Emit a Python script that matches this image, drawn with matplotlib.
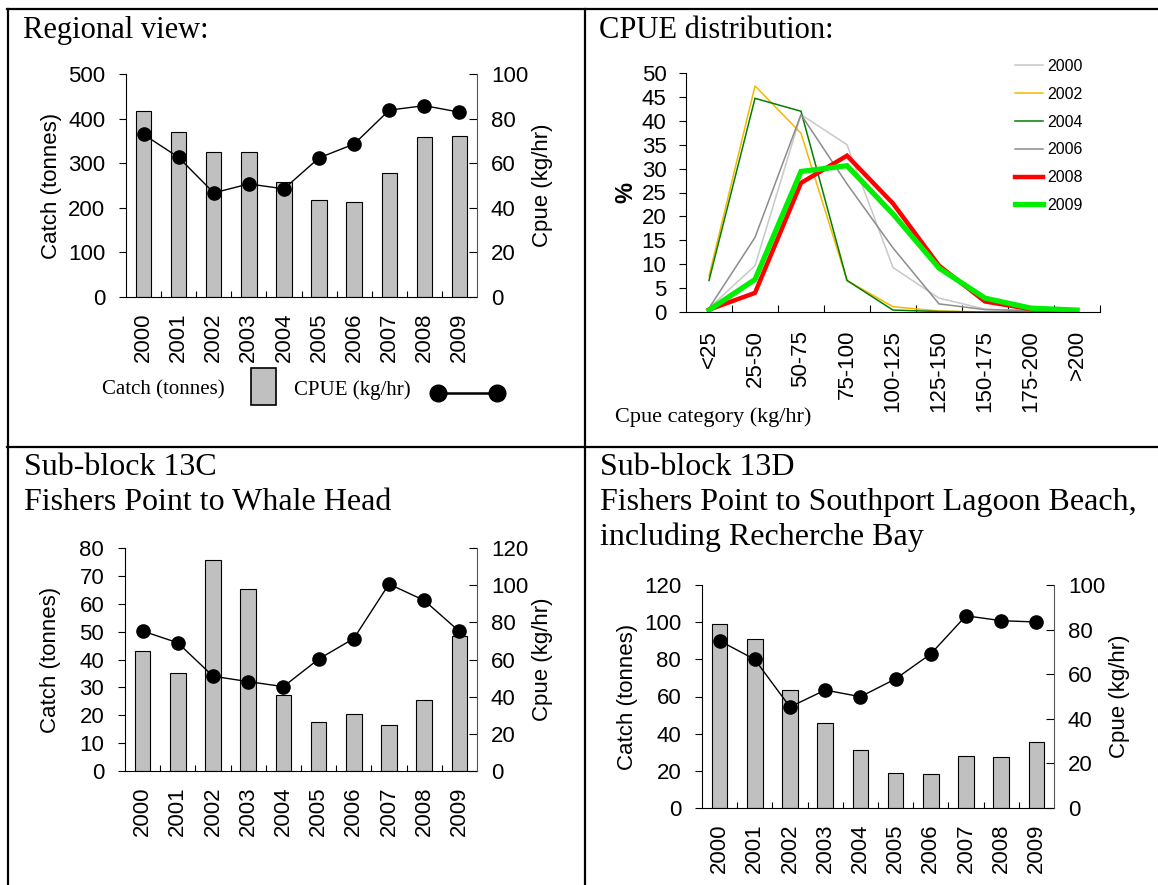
"""
Catch and CPUE summary figure: regional view, CPUE distribution and two sub-blocks
"""

import matplotlib
matplotlib.use("Agg")
import matplotlib.pyplot as plt
from matplotlib.lines import Line2D
from matplotlib.patches import Rectangle
import numpy as np

plt.rcParams["font.family"] = ["Liberation Sans", "DejaVu Sans"]

W, H = 1158, 885
SERIF = ["Liberation Serif", "DejaVu Serif"]

# ---------------------------------------------------------------- data
years = ["2000", "2001", "2002", "2003", "2004", "2005", "2006", "2007", "2008", "2009"]

region_catch = [418, 371, 324, 326, 257, 218, 213, 279, 358, 361]
region_cpue = [72.9, 62.6, 46.7, 50.7, 48.5, 62.4, 68.6, 83.8, 85.8, 82.9]

c13_catch = [42.9, 35.0, 75.6, 65.4, 27.2, 17.4, 20.5, 16.5, 25.6, 48.4]
c13_cpue = [75.3, 69.0, 51.0, 48.1, 45.4, 60.2, 71.3, 100.6, 91.8, 75.1]

d13_catch = [99.0, 91.0, 63.3, 45.5, 31.3, 19.1, 18.4, 28.2, 27.7, 35.4]
d13_cpue = [75.0, 66.6, 45.3, 52.9, 49.9, 57.9, 69.1, 86.2, 84.0, 83.4]

cpue_cats = ["<25", "25-50", "50-75", "75-100", "100-125", "125-150", "150-175", "175-200", ">200"]
dist_years = ["2000", "2002", "2004", "2006", "2008", "2009"]
dist_2000 = [0.8, 9.7, 41.3, 35.0, 9.3, 2.9, 0.6, 0.3, 0.2]
dist_2002 = [7.5, 47.3, 37.4, 6.6, 1.1, 0.2, 0.0, 0.0, 0.0]
dist_2004 = [6.6, 44.7, 42.0, 6.6, 0.4, 0.1, 0.0, 0.0, 0.0]
dist_2006 = [0.8, 15.6, 41.3, 26.8, 13.4, 1.7, 0.5, 0.3, 0.1]
dist_2008 = [0.5, 4.0, 27.0, 32.7, 22.7, 9.7, 2.2, 0.6, 0.3]
dist_2009 = [0.4, 6.8, 29.4, 30.6, 20.5, 9.2, 2.9, 0.8, 0.4]

dist_colors = ["#c8c8c8", "#f5b800", "#008000", "#8c8c8c", "#ff0000", "#00ee00"]
dist_widths = [1.1, 1.1, 1.1, 1.1, 3.2, 3.8]


def px_box(x0, y0, x1, y1):
	return [x0 / W, 1 - y1 / H, (x1 - x0) / W, (y1 - y0) / H]


def fx(x):
	return x / W


def fy(y):
	return 1 - y / H


fig = plt.figure(figsize=(W / 100.0, H / 100.0), dpi=100)

TICKFS = 16


def catch_panel(box, catch, cpue, cmax, cstep, pmax, pstep, lpad):
	ax = fig.add_axes(px_box(*box))
	x = np.arange(len(years))
	ax.bar(x, catch, width=0.44, color="#c0c0c0", edgecolor="black", linewidth=0.8, zorder=2)
	ax.set_xlim(-0.5, len(years) - 0.5)
	ax.set_ylim(0, cmax)
	ax.set_yticks(np.arange(0, cmax + 1, cstep))
	ax.set_xticks(x)
	ax.set_xticklabels(years, rotation=90, fontsize=TICKFS)
	ax.set_xticks(np.arange(0.5, len(years) - 0.5, 1), minor=True)
	ax.tick_params(axis="x", which="major", length=0, pad=11)
	ax.tick_params(axis="x", which="minor", direction="in", length=4, width=0.8)
	ax.tick_params(axis="y", direction="out", length=5, width=0.8, labelsize=TICKFS, pad=10)
	ax.spines["top"].set_visible(False)
	ax.spines["right"].set_visible(False)
	ax.set_ylabel("Catch (tonnes)", fontsize=TICKFS, labelpad=lpad)

	ax2 = ax.twinx()
	ax2.plot(x, cpue, color="black", lw=1.0, marker="o", markersize=9.5, zorder=3)
	ax2.set_ylim(0, pmax)
	ax2.set_yticks(np.arange(0, pmax + 1, pstep))
	ax2.tick_params(axis="y", direction="in", length=6, width=0.8, labelsize=TICKFS, pad=10)
	ax2.spines["top"].set_visible(False)
	ax2.spines["left"].set_visible(False)
	ax2.spines["bottom"].set_visible(False)
	ax2.spines["right"].set_color("#555555")
	ax2.set_ylabel("Cpue (kg/hr)", fontsize=TICKFS, labelpad=3)
	return ax, ax2


# ---------------------------------------------------------------- panels with catch and cpue
catch_panel((126, 74, 477, 297), region_catch, region_cpue, 500, 100, 100, 20, 4)
catch_panel((125, 548, 477, 771), c13_catch, c13_cpue, 80, 10, 120, 20, 13)
catch_panel((702, 585, 1054, 808), d13_catch, d13_cpue, 120, 20, 100, 20, 4)

# manual legend for the regional view
fig.text(fx(102), fy(390), "Catch (tonnes)", family=SERIF, fontsize=15, va="center", ha="left")
fig.add_artist(Rectangle((fx(251), fy(405)), fx(276) - fx(251), fy(368) - fy(405),
	facecolor="#c0c0c0", edgecolor="black", lw=1.2, transform=fig.transFigure))
fig.text(fx(294), fy(390), "CPUE (kg/hr)", family=SERIF, fontsize=15, va="center", ha="left")
fig.add_artist(Line2D([fx(438), fx(497)], [fy(393), fy(393)], color="black", lw=1.8,
	marker="o", markersize=12, transform=fig.transFigure))

# ---------------------------------------------------------------- cpue distribution
axd = fig.add_axes(px_box(686, 73, 1100, 312))
xc = np.arange(len(cpue_cats))
series = [dist_2000, dist_2002, dist_2004, dist_2006, dist_2008, dist_2009]
for lab, vals, col, lw in zip(dist_years, series, dist_colors, dist_widths):
	axd.plot(xc, vals, color=col, lw=lw, label=lab, solid_joinstyle="miter")
axd.set_xlim(-0.5, len(cpue_cats) - 0.5)
axd.set_ylim(0, 50)
axd.set_yticks(np.arange(0, 51, 5))
axd.set_xticks(xc)
axd.set_xticklabels(cpue_cats, rotation=90, fontsize=TICKFS)
axd.set_xticks(np.arange(0.5, len(cpue_cats), 1), minor=True)
axd.tick_params(axis="x", which="major", length=0, pad=13)
axd.tick_params(axis="x", which="minor", direction="in", length=5, width=0.8)
axd.tick_params(axis="y", direction="out", length=5, width=0.8, labelsize=TICKFS, pad=9)
axd.spines["top"].set_visible(False)
axd.spines["right"].set_visible(False)
axd.set_ylabel("%", fontsize=17, fontweight="bold", labelpad=3)
axd.legend(loc="upper left", bbox_to_anchor=(fx(1015), fy(59)), bbox_transform=fig.transFigure,
	frameon=False, fontsize=11.5, handlelength=1.75, handletextpad=0.3, labelspacing=0.8,
	borderaxespad=0, borderpad=0)
fig.text(fx(615), fy(417), "Cpue category (kg/hr)", family=SERIF, fontsize=16, va="center", ha="left")

# ---------------------------------------------------------------- titles and table rules
fig.text(fx(23), fy(38), "Regional view:", family=SERIF, fontsize=22, va="baseline")
fig.text(fx(599), fy(38), "CPUE distribution:", family=SERIF, fontsize=22, va="baseline")
fig.text(fx(24), fy(475), "Sub-block 13C", family=SERIF, fontsize=23, va="baseline")
fig.text(fx(24), fy(510), "Fishers Point to Whale Head", family=SERIF, fontsize=23, va="baseline")
fig.text(fx(600), fy(475), "Sub-block 13D", family=SERIF, fontsize=23, va="baseline")
fig.text(fx(600), fy(510), "Fishers Point to Southport Lagoon Beach,", family=SERIF, fontsize=23, va="baseline")
fig.text(fx(600), fy(545), "including Recherche Bay", family=SERIF, fontsize=23, va="baseline")

rule = {"color": "black", "lw": 1.6, "transform": fig.transFigure}
fig.add_artist(Line2D([fx(7), 1.0], [fy(9), fy(9)], **rule))
fig.add_artist(Line2D([fx(7), 1.0], [fy(447), fy(447)], **rule))
fig.add_artist(Line2D([fx(8), fx(8)], [fy(9), 0.0], **rule))
fig.add_artist(Line2D([fx(585), fx(585)], [fy(9), 0.0], **rule))

fig.savefig("out.png", dpi=100, facecolor="white")
